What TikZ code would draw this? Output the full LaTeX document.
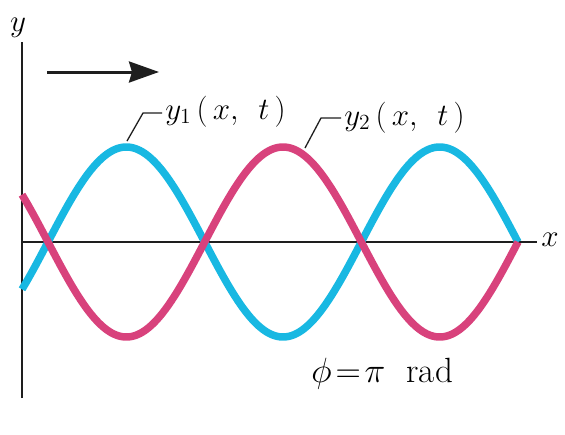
\documentclass[tikz,border=0pt]{standalone}
\usetikzlibrary{arrows.meta}
\definecolor{waveblue}{RGB}{24,184,226}
\definecolor{wavepink}{RGB}{216,66,124}
\definecolor{axisgray}{RGB}{30,30,30}
\tikzset{
  axisline/.style={draw=axisgray, line width=2.2pt},
  wave/.style={line width=7.5pt},
  leader/.style={draw=axisgray, line width=1.3pt},
  lbl/.style={inner sep=0pt, font=\huge, scale=1.5, transform shape},
  biglbl/.style={inner sep=0pt, font=\huge, scale=1.69, transform shape},
}
\begin{document}
\begin{tikzpicture}[x=1pt,y=-1pt]
\useasboundingbox (0,0) rectangle (565,434);
% axes
\coordinate (yb) at (22,398);
\coordinate (yt) at (22,42);
\coordinate (xl) at (22,242);
\coordinate (xr) at (537,242);
\draw[axisline] (yb) -- (yt);
\draw[axisline] (xl) -- (xr);
\node[lbl, anchor=base] (ylab) at (18,31) {$y$};
\node[lbl, anchor=west] (xlab) at (541,240) {$x$};
% direction arrow
\coordinate (a1) at (47,72);
\coordinate (a2) at (159,72);
\draw[axisgray, line width=3pt, -{Stealth[length=30pt,width=21pt,inset=3pt]}] (a1) -- (a2);
% waves
\draw[wave, waveblue] plot[domain=22:518, samples=240] (\x, {242-95*sin(1.14896*(\x-48))});
\draw[wave, wavepink] plot[domain=22:518, samples=240] (\x, {242+95*sin(1.14896*(\x-48))});
% labels
\coordinate (p1) at (127,141);
\coordinate (e1) at (143,113);
\coordinate (p2) at (305,148);
\coordinate (e2) at (321,118);
\node[lbl, anchor=base west] (l1) at (165,119) {$y_1\,(\,x,\ \,t\,)$};
\node[lbl, anchor=base west] (l2) at (344,125) {$y_2\,(\,x,\ \,t\,)$};
\draw[leader] (p1) -- (e1) -- ([xshift=-3pt]e1 -| l1.west);
\draw[leader] (p2) -- (e2) -- ([xshift=-3pt]e2 -| l2.west);
\node[biglbl, anchor=base west] (phi) at (311,382) {$\phi\!=\!\pi$\ \ rad};
\end{tikzpicture}
\end{document}
